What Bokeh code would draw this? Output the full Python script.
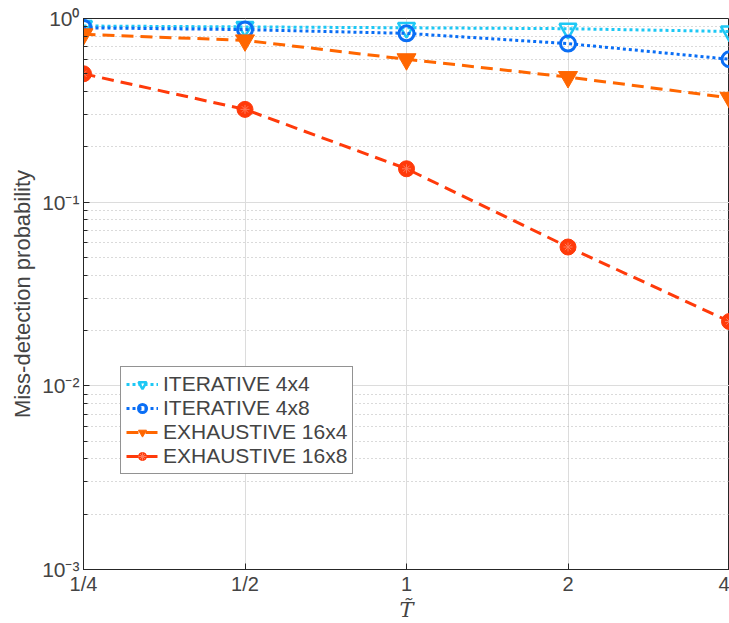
from bokeh.plotting import figure
from bokeh.models import FixedTicker, CustomJSTickFormatter, Legend, LegendItem, Range1d, LogTicker
from bokeh.embed import file_html
from bokeh.resources import INLINE

T_vals = [0.25, 0.5, 1, 2, 4]
x_tick_labels = ["1/4", "1/2", "1", "2", "4"]
iter_4x4 = [0.91, 0.90, 0.89, 0.88, 0.85]
iter_4x8 = [0.89, 0.87, 0.83, 0.73, 0.60]
exh_16x4 = [0.82, 0.76, 0.60, 0.48, 0.37]
exh_16x8 = [0.50, 0.32, 0.152, 0.057, 0.0224]

FONT = "Liberation Sans"

p = figure(frame_width=646, frame_height=551, x_axis_type="log", y_axis_type="log",
           x_range=Range1d(0.25, 4), y_range=Range1d(1e-3, 1),
           output_backend="svg", toolbar_location=None,
           min_border_left=83, min_border_right=0, min_border_top=18, min_border_bottom=50)

p.outline_line_color = "#262626"
p.outline_line_width = 1
p.background_fill_color = "white"
p.border_fill_color = "white"

# x axis
p.xaxis.ticker = FixedTicker(ticks=T_vals, minor_ticks=[])
p.xaxis.formatter = CustomJSTickFormatter(args=dict(vals=T_vals, labs=x_tick_labels), code="""
    for (let i = 0; i < vals.length; i++) { if (Math.abs(vals[i] - tick) < 1e-9) return labs[i]; }
    return "";
""")
p.xaxis.axis_label = "T\u0303"
p.xaxis.axis_label_text_font = "DejaVu Serif"
p.xaxis.axis_label_text_font_style = "italic"
p.xaxis.axis_label_text_font_size = "21px"
p.xaxis.axis_label_standoff = 0
p.xaxis.major_label_text_font = FONT
p.xaxis.major_label_text_font_size = "20px"
p.xaxis.major_label_standoff = 3
p.xaxis.major_tick_in = 6
p.xaxis.major_tick_out = 0
p.xaxis.axis_line_color = "#262626"
p.xaxis.major_tick_line_color = "#262626"

# y axis
p.yaxis.ticker = LogTicker(num_minor_ticks=10)
p.yaxis.formatter = CustomJSTickFormatter(code="""
    const sup = {"-": "\u207b", "0": "\u2070", "1": "\u00b9", "2": "\u00b2", "3": "\u00b3",
                 "4": "\u2074", "5": "\u2075", "6": "\u2076", "7": "\u2077", "8": "\u2078", "9": "\u2079"};
    const e = String(Math.round(Math.log10(tick)));
    let s = "";
    for (const c of e) s += sup[c];
    return "10" + s;
""")
p.yaxis.axis_label = "Miss-detection probability"
p.yaxis.axis_label_text_font = FONT
p.yaxis.axis_label_text_font_style = "normal"
p.yaxis.axis_label_text_font_size = "22px"
p.yaxis.axis_label_standoff = 4
p.yaxis.major_label_text_font = FONT
p.yaxis.major_label_text_font_size = "21px"
p.yaxis.major_label_standoff = 4
p.yaxis.major_tick_in = 6
p.yaxis.major_tick_out = 0
p.yaxis.minor_tick_in = 4
p.yaxis.minor_tick_out = 0
p.yaxis.axis_line_color = "#262626"
p.yaxis.major_tick_line_color = "#262626"
p.yaxis.minor_tick_line_color = "#262626"

# grids
p.xgrid.grid_line_color = "#dcdcdc"
p.xgrid.grid_line_width = 1
p.ygrid.grid_line_color = "#dcdcdc"
p.ygrid.grid_line_width = 1
p.ygrid.minor_grid_line_color = "#b4b4b4"
p.ygrid.minor_grid_line_dash = "1 3"
p.ygrid.minor_grid_line_width = 1

CYAN = "#1ec8f5"
BLUE = "#0a6ef5"
ORANGE = "#ff6600"
RED = "#ff3a0a"

items = []

l1 = p.line(T_vals, iter_4x4, line_color=CYAN, line_width=3, line_dash="3 3")
m1 = p.scatter(T_vals, iter_4x4, marker="inverted_triangle", size=17, line_color=CYAN,
               fill_color=None, line_width=2.5)
items.append(LegendItem(label="ITERATIVE 4x4", renderers=[l1, m1]))

l2 = p.line(T_vals, iter_4x8, line_color=BLUE, line_width=3, line_dash="3 3")
m2 = p.scatter(T_vals, iter_4x8, marker="circle", size=15, line_color=BLUE,
               fill_color=None, line_width=3)
items.append(LegendItem(label="ITERATIVE 4x8", renderers=[l2, m2]))

l3 = p.line(T_vals, exh_16x4, line_color=ORANGE, line_width=3, line_dash="12 7")
m3 = p.scatter(T_vals, exh_16x4, marker="inverted_triangle", size=19, line_color=ORANGE,
               fill_color=ORANGE, line_width=1)
items.append(LegendItem(label="EXHAUSTIVE 16x4", renderers=[l3, m3]))

l4 = p.line(T_vals, exh_16x8, line_color=RED, line_width=3, line_dash="12 7")
m4 = p.scatter(T_vals, exh_16x8, marker="circle", size=16, line_color=RED,
               fill_color=RED, line_width=1)
m4b = p.scatter(T_vals, exh_16x8, marker="asterisk", size=9, line_color="#ff7a5a",
                line_width=1)
items.append(LegendItem(label="EXHAUSTIVE 16x8", renderers=[l4, m4, m4b]))

legend = Legend(items=items, location=(37, 95))
legend.label_text_font = FONT
legend.label_text_font_size = "21px"
legend.label_text_line_height = 0.95
legend.label_height = 20
legend.label_standoff = 5
legend.glyph_width = 32
legend.glyph_height = 20
legend.spacing = 0
legend.padding = 5
legend.margin = 0
legend.border_line_color = "#262626"
legend.border_line_width = 1
legend.background_fill_color = "white"
legend.background_fill_alpha = 1
p.add_layout(legend, "center")

open("out.html", "w").write(file_html(p, INLINE))
